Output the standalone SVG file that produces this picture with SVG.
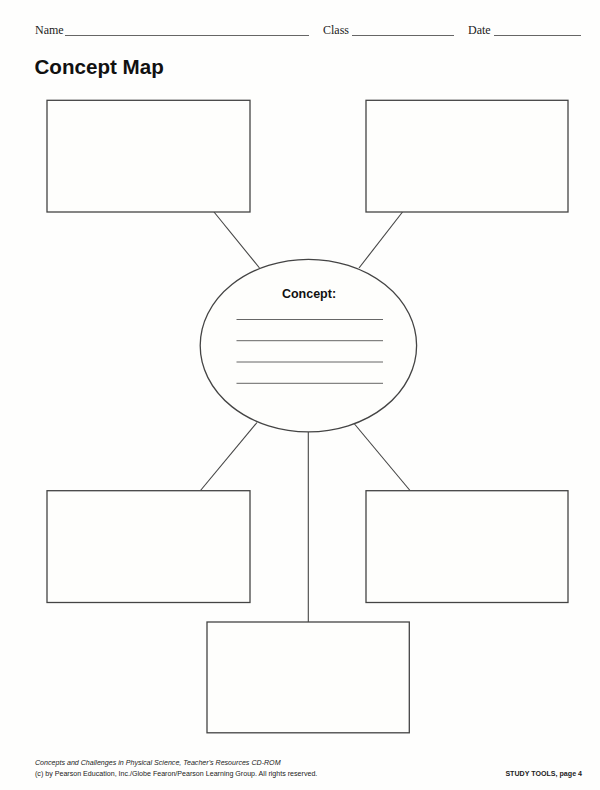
<svg xmlns="http://www.w3.org/2000/svg" width="600" height="790" viewBox="0 0 600 790">
<style>
.box{fill:#fefefc;stroke:#444;stroke-width:1.3}
.ln{stroke:#444;stroke-width:1.1;fill:none}
.rule{stroke:#555;stroke-width:0.9}
.serif{font-family:"Liberation Serif","Times New Roman",serif;font-size:12px;fill:#222}
.sans{font-family:"Liberation Sans",Arial,sans-serif;fill:#111}
</style>
<rect width="600" height="790" fill="#fefefd"/>
<g id="header">
<text class="serif" x="35" y="34">Name</text>
<line class="rule" x1="65" y1="35.5" x2="309" y2="35.5"/>
<text class="serif" x="323" y="34">Class</text>
<line class="rule" x1="352" y1="35.5" x2="454" y2="35.5"/>
<text class="serif" x="468" y="34">Date</text>
<line class="rule" x1="494" y1="35.5" x2="581" y2="35.5"/>
<text class="sans" x="34.5" y="74" font-size="20.6" font-weight="bold">Concept Map</text>
</g>
<g id="connectors">
<line class="ln" x1="214" y1="212" x2="259.5" y2="268"/>
<line class="ln" x1="402.5" y1="212" x2="359" y2="268"/>
<line class="ln" x1="257" y1="422.5" x2="200.5" y2="490.5"/>
<line class="ln" x1="354.5" y1="424" x2="410" y2="490.5"/>
<line class="ln" x1="308.3" y1="432" x2="308.3" y2="622"/>
</g>
<g id="box-top-left"><rect class="box" x="47" y="100.3" width="203" height="111.7"/></g>
<g id="box-top-right"><rect class="box" x="366" y="100.3" width="202" height="111.7"/></g>
<g id="box-bottom-left"><rect class="box" x="47" y="490.7" width="203" height="111.8"/></g>
<g id="box-bottom-right"><rect class="box" x="366" y="490.7" width="202" height="111.8"/></g>
<g id="box-bottom-center"><rect class="box" x="207" y="622" width="202.3" height="110.8"/></g>
<g id="concept">
<ellipse class="box" cx="308.4" cy="345.6" rx="108.2" ry="86.3"/>
<text class="sans" x="309" y="298" font-size="12.5" font-weight="bold" text-anchor="middle">Concept:</text>
<g class="rule">
<line x1="236.5" y1="319.5" x2="383" y2="319.5"/>
<line x1="236.5" y1="340.7" x2="383" y2="340.7"/>
<line x1="236.5" y1="362" x2="383" y2="362"/>
<line x1="236.5" y1="383.3" x2="383" y2="383.3"/>
</g>
</g>
<g id="footer" font-family="'Liberation Sans',Arial,sans-serif" font-size="7.1" fill="#222">
<text x="35" y="765" font-style="italic">Concepts and Challenges in Physical Science, Teacher's Resources CD-ROM</text>
<text x="35" y="776">(c) by Pearson Education, Inc./Globe Fearon/Pearson Learning Group. All rights reserved.</text>
<text x="582" y="776" text-anchor="end" font-weight="bold">STUDY TOOLS, page 4</text>
</g>
</svg>
